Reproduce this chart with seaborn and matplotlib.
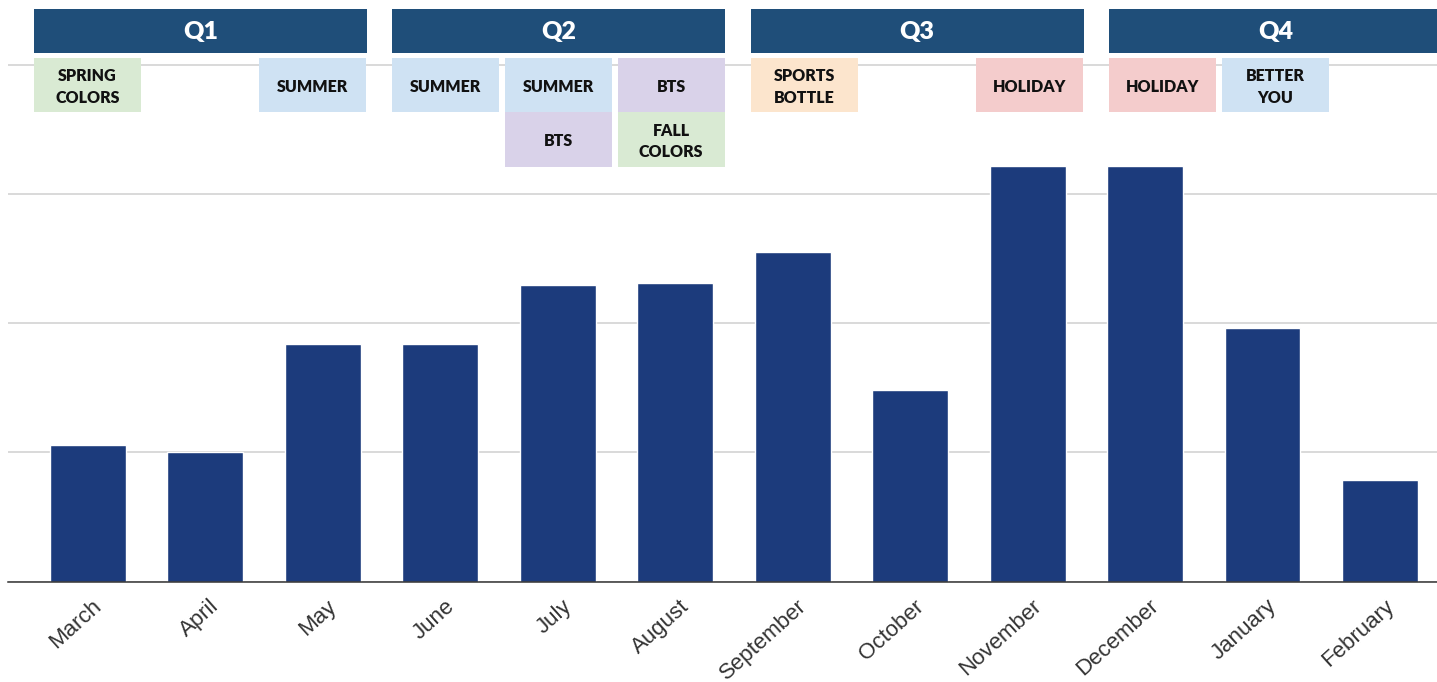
import matplotlib
matplotlib.use("Agg")
import matplotlib.pyplot as plt
from matplotlib.patches import Rectangle
from matplotlib.transforms import ScaledTranslation
import seaborn as sns
import pandas as pd

# ---- data ----
months = ["March", "April", "May", "June", "July", "August", "September",
          "October", "November", "December", "January", "February"]
values = [106, 100, 184, 184, 230, 231, 255, 148, 322, 322, 196, 79]
grid_ticks = [0, 100, 200, 300, 400]

quarters = ["Q1", "Q2", "Q3", "Q4"]
# (quarter index, column, row, text, colour key)
campaign_quarter = [0, 0, 1, 1, 1, 1, 1, 2, 2, 3, 3]
campaign_col = [0, 2, 0, 1, 1, 2, 2, 0, 2, 0, 1]
campaign_row = [0, 0, 0, 0, 1, 0, 1, 0, 0, 0, 0]
campaign_text = ["SPRING\nCOLORS", "SUMMER", "SUMMER", "SUMMER", "BTS", "BTS",
                 "FALL\nCOLORS", "SPORTS\nBOTTLE", "HOLIDAY", "HOLIDAY", "BETTER\nYOU"]
campaign_kind = ["green", "blue", "blue", "blue", "purple", "purple", "green",
                 "orange", "pink", "pink", "blue"]

# ---- style ----
W, H, DPI = 1437, 682, 100
BAR = "#1c3b7c"
HEADER = "#1f4e79"
FILLS = {"green": "#d9ead3", "blue": "#cfe2f3", "purple": "#d9d2e9",
         "orange": "#fce5cd", "pink": "#f4cccc"}

sns.set_theme(style="white")
plt.rcParams["font.family"] = ["Liberation Sans", "DejaVu Sans"]

fig = plt.figure(figsize=(W / DPI, H / DPI), dpi=DPI)
base_px = 581.5
unit_px = 129.1
left_px = 8
ax = fig.add_axes([left_px / W, (H - base_px) / H, 1 - left_px / W, base_px / H])

df = pd.DataFrame({"month": months, "value": values})
sns.barplot(data=df, x="month", y="value", color=BAR, saturation=1,
            width=0.647, ax=ax, zorder=3)

spacing_px = 117.45
first_px = 88
ax.set_xlim((left_px - first_px) / spacing_px, (W - first_px) / spacing_px)
ax.set_ylim(0, base_px / unit_px * 100)
ax.set_yticks(grid_ticks)
ax.set_yticklabels([])
ax.yaxis.grid(True, color="#d9d9d9", linewidth=1.4, zorder=0)
ax.set_axisbelow(True)
ax.set_xlabel("")
ax.set_ylabel("")
for s in ["top", "right", "left"]:
    ax.spines[s].set_visible(False)
ax.spines["bottom"].set_color("#333333")
ax.spines["bottom"].set_linewidth(1.1)
ax.spines["bottom"].set_zorder(4)
ax.tick_params(axis="both", length=0, pad=0)
ax.set_xticks(range(len(months)))
ax.set_xticklabels(months, rotation=42, ha="right", va="center",
                   rotation_mode="anchor", fontsize=16, color="#333333")
off = ScaledTranslation(11 / DPI, -22 / DPI, fig.dpi_scale_trans)
for lab in ax.get_xticklabels():
    lab.set_transform(lab.get_transform() + off)


def box(x0, y0, w, h, color, text, tcolor, size, dy=0):
    fig.add_artist(Rectangle((x0 / W, 1 - (y0 + h) / H), w / W, h / H,
                             transform=fig.transFigure, facecolor=color,
                             edgecolor="none", zorder=5))
    fig.text((x0 + w / 2) / W, 1 - (y0 + h / 2 + dy) / H, text, ha="center",
             va="center", color=tcolor, fontsize=size, fontweight="heavy",
             family=["Lato", "DejaVu Sans"], zorder=6, linespacing=1.45)


q_start, q_step, q_w = 34, 358.3, 333
col_step, col_w = 112.7, 107
head_y, head_h = 9, 43.5
row_y, row_h = 58, 54.3

for qi, q in enumerate(quarters):
    box(q_start + qi * q_step, head_y, q_w, head_h, HEADER, q, "white", 18, dy=1)

for qi, c, r, t, k in zip(campaign_quarter, campaign_col, campaign_row,
                          campaign_text, campaign_kind):
    box(q_start + qi * q_step + c * col_step, row_y + r * row_h, col_w, row_h,
        FILLS[k], t, "#111111", 11.5, dy=2)

fig.savefig("out.png", dpi=DPI)
